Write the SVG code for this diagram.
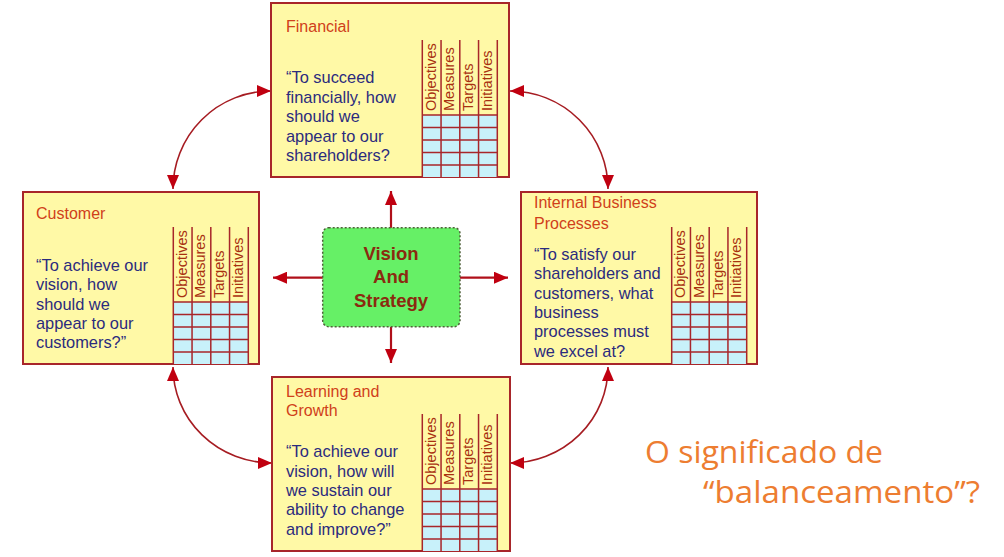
<svg xmlns="http://www.w3.org/2000/svg" width="1004" height="557" viewBox="0 0 1004 557">
<style>
.box{fill:#fff9a6;stroke:#a8262a;stroke-width:2}
.title{font-family:"Liberation Sans",Arial,sans-serif;font-size:16px;fill:#d0401a}
.quote{font-family:"Liberation Sans",Arial,sans-serif;font-size:16.4px;fill:#2b2b7e}
.hdr{font-family:"Liberation Sans",Arial,sans-serif;font-size:14.5px;fill:#a83010}
.grid{fill:#c8f1fa}
.gl{stroke:#a8262a;stroke-width:1.5;fill:none}
.conn{stroke:#a61c22;stroke-width:1.6;fill:none}
.sconn{stroke:#b0101a;stroke-width:2.2;fill:none}
.center{fill:#66f066;stroke:#50603a;stroke-width:1.5;stroke-dasharray:2 2}
.ctext{font-family:"Liberation Sans",Arial,sans-serif;font-size:18.5px;font-weight:bold;fill:#8b2a10;text-anchor:middle}
.note{font-family:"Open Sans","Liberation Sans",sans-serif;font-size:31px;fill:#ed7d31}
</style>
<defs>
<marker id="ah" viewBox="0 0 14 12" refX="14" refY="6" markerWidth="14" markerHeight="12" markerUnits="userSpaceOnUse" orient="auto-start-reverse">
<path d="M0,0 L14,6 L0,12 z" fill="#c00010"/>
</marker>
<g id="tbl">
<rect class="grid" x="0" y="75" width="75" height="62"/>
<path class="gl" d="M0,0V137M18.75,0V137M37.5,0V137M56.25,0V137M75,0V137M0,75H75M0,87.5H75M0,100H75M0,112.5H75M0,125H75"/>
</g>
</defs>
<rect width="1004" height="557" fill="#ffffff"/>

<g id="connectors">
<path class="sconn" d="M391,228 L391,191" marker-end="url(#ah)"/>
<path class="sconn" d="M391,327 L391,363" marker-end="url(#ah)"/>
<path class="sconn" d="M323,277.7 L273,277.7" marker-end="url(#ah)"/>
<path class="sconn" d="M460,277.7 L508,277.7" marker-end="url(#ah)"/>
<path class="conn" d="M173,189 A98,98 0 0 1 271,91" marker-start="url(#ah)" marker-end="url(#ah)"/>
<path class="conn" d="M510,91 A98,98 0 0 1 608,189" marker-start="url(#ah)" marker-end="url(#ah)"/>
<path class="conn" d="M173,367 A99,96 0 0 0 272,463" marker-start="url(#ah)" marker-end="url(#ah)"/>
<path class="conn" d="M608,367 A98,96 0 0 1 510,463" marker-start="url(#ah)" marker-end="url(#ah)"/>
</g>

<g id="financial">
<rect class="box" x="271" y="3" width="238" height="174"/>
<text class="title" x="286" y="32">Financial</text>
<text class="quote" x="286" y="83">“To succeed</text>
<text class="quote" x="286" y="102.5">financially, how</text>
<text class="quote" x="286" y="122">should we</text>
<text class="quote" x="286" y="141.5">appear to our</text>
<text class="quote" x="286" y="161">shareholders?</text>
<g transform="translate(422.3,40)">
<use href="#tbl"/>
<text class="hdr" transform="translate(13.3,71) rotate(-90)">Objectives</text>
<text class="hdr" transform="translate(32,71) rotate(-90)">Measures</text>
<text class="hdr" transform="translate(50.8,71) rotate(-90)">Targets</text>
<text class="hdr" transform="translate(69.5,71) rotate(-90)">Initiatives</text>
</g>
</g>

<g id="customer">
<rect class="box" x="23" y="192" width="236" height="172"/>
<text class="title" x="36" y="219">Customer</text>
<text class="quote" x="36" y="271">“To achieve our</text>
<text class="quote" x="36" y="290.3">vision, how</text>
<text class="quote" x="36" y="309.6">should we</text>
<text class="quote" x="36" y="329">appear to our</text>
<text class="quote" x="36" y="348.3">customers?”</text>
<g transform="translate(173.3,227)">
<use href="#tbl"/>
<text class="hdr" transform="translate(13.3,71) rotate(-90)">Objectives</text>
<text class="hdr" transform="translate(32,71) rotate(-90)">Measures</text>
<text class="hdr" transform="translate(50.8,71) rotate(-90)">Targets</text>
<text class="hdr" transform="translate(69.5,71) rotate(-90)">Initiatives</text>
</g>
</g>

<g id="internal">
<rect class="box" x="521" y="192" width="236" height="172"/>
<text class="title" x="534" y="208.3">Internal Business</text>
<text class="title" x="534" y="229">Processes</text>
<text class="quote" x="534" y="260">“To satisfy our</text>
<text class="quote" x="534" y="279.3">shareholders and</text>
<text class="quote" x="534" y="298.6">customers, what</text>
<text class="quote" x="534" y="318">business</text>
<text class="quote" x="534" y="337.3">processes must</text>
<text class="quote" x="534" y="356.6">we excel at?</text>
<g transform="translate(671.7,227)">
<use href="#tbl"/>
<text class="hdr" transform="translate(13.3,71) rotate(-90)">Objectives</text>
<text class="hdr" transform="translate(32,71) rotate(-90)">Measures</text>
<text class="hdr" transform="translate(50.8,71) rotate(-90)">Targets</text>
<text class="hdr" transform="translate(69.5,71) rotate(-90)">Initiatives</text>
</g>
</g>

<g id="learning">
<rect class="box" x="272" y="377" width="238" height="174"/>
<text class="title" x="286" y="396.7">Learning and</text>
<text class="title" x="286" y="415.7">Growth</text>
<text class="quote" x="286" y="457.3">“To achieve our</text>
<text class="quote" x="286" y="476.7">vision, how will</text>
<text class="quote" x="286" y="496">we sustain our</text>
<text class="quote" x="286" y="515.4">ability to change</text>
<text class="quote" x="286" y="534.8">and improve?”</text>
<g transform="translate(422.3,414)">
<use href="#tbl"/>
<text class="hdr" transform="translate(13.3,71) rotate(-90)">Objectives</text>
<text class="hdr" transform="translate(32,71) rotate(-90)">Measures</text>
<text class="hdr" transform="translate(50.8,71) rotate(-90)">Targets</text>
<text class="hdr" transform="translate(69.5,71) rotate(-90)">Initiatives</text>
</g>
</g>

<g id="vision">
<rect class="center" x="322.7" y="227.7" width="137.3" height="99" rx="6"/>
<text class="ctext" x="391" y="260">Vision</text>
<text class="ctext" x="391" y="283.3">And</text>
<text class="ctext" x="391" y="306.5">Strategy</text>
</g>

<g id="note">
<text class="note" x="645" y="463.3" textLength="238" lengthAdjust="spacingAndGlyphs">O significado de</text>
<text class="note" x="703" y="503.3" textLength="277" lengthAdjust="spacingAndGlyphs">“balanceamento”?</text>
</g>
</svg>
